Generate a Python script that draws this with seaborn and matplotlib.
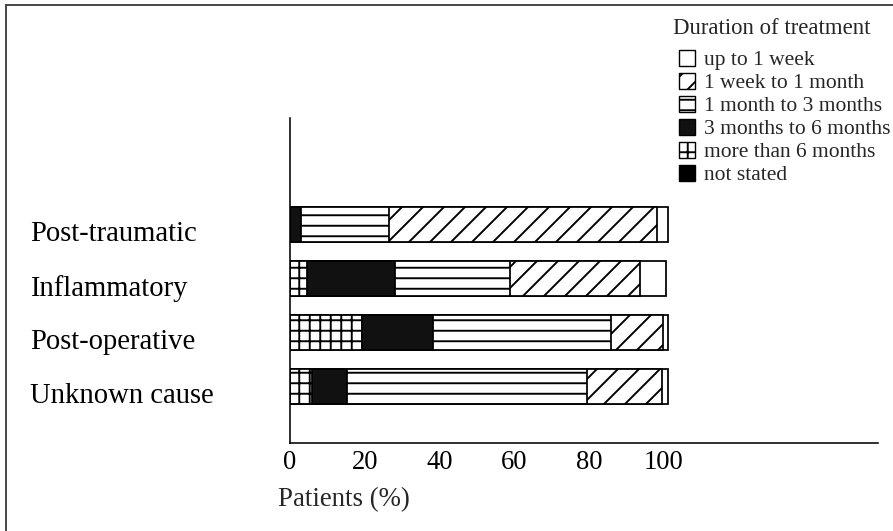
import numpy as np
import pandas as pd
import matplotlib
matplotlib.use("Agg")
import matplotlib.pyplot as plt
import matplotlib.transforms as mtransforms
import seaborn as sns
from matplotlib.patches import Patch
from matplotlib.lines import Line2D

# ---------------- data ----------------
categories = ["Post-traumatic", "Inflammatory", "Post-operative", "Unknown cause"]
# segments listed left -> right along each bar (percent of patients)
not_stated = [0.0, 0.0, 0.0, 0.0]
more_than_6_months = [0.0, 4.5, 19.2, 5.8]
months_3_to_6 = [3.0, 23.5, 19.0, 9.4]
months_1_to_3 = [23.5, 30.7, 47.6, 64.1]
week_1_to_month_1 = [71.5, 34.8, 13.9, 20.1]
up_to_1_week = [3.0, 7.0, 1.3, 1.6]

legend_labels = ["up to 1 week", "1 week to 1 month", "1 month to 3 months",
                 "3 months to 6 months", "more than 6 months", "not stated"]
x_ticks = [0, 20, 40, 60, 80, 100]
x_label = "Patients (%)"
legend_title = "Duration of treatment"

# ---------------- style ----------------
DPI = 126
W, H = 893, 531
sns.set_style("white")
plt.rcParams["font.family"] = ["Liberation Serif", "DejaVu Serif"]
plt.rcParams["hatch.linewidth"] = 1.1
plt.rcParams["axes.edgecolor"] = "black"

styles = {
    "up to 1 week": ("white", ""),
    "1 week to 1 month": ("white", "//"),
    "1 month to 3 months": ("white", "--"),
    "3 months to 6 months": ("#111111", ""),
    "more than 6 months": ("white", "++"),
    "not stated": ("black", ""),
}

fig = plt.figure(figsize=(W / DPI, H / DPI), dpi=DPI)
ax = fig.add_axes([290 / W, 88 / H, 588 / W, 325 / H])

segments = [
    ("not stated", not_stated),
    ("more than 6 months", more_than_6_months),
    ("3 months to 6 months", months_3_to_6),
    ("1 month to 3 months", months_1_to_3),
    ("1 week to 1 month", week_1_to_month_1),
    ("up to 1 week", up_to_1_week),
]
cum = np.cumsum(np.array([s[1] for s in segments]), axis=0)

for i in reversed(range(len(segments))):
    name = segments[i][0]
    face, hatch = styles[name]
    df = pd.DataFrame({"category": categories, "value": cum[i]})
    sns.barplot(data=df, x="value", y="category", order=categories, orient="h",
                color=face, saturation=1, edgecolor="black", linewidth=1.0,
                width=0.65, ax=ax)
    for p in ax.containers[-1]:
        p.set_facecolor(face)
        p.set_hatch(hatch)

ax.set_xlim(0, 157.2)
ax.set_ylim(4.04, -1.98)
ax.set_xticks(x_ticks)
ax.set_xticklabels([str(t) for t in x_ticks])
ax.tick_params(axis="x", direction="in", length=12, width=1.2, pad=4,
               labelsize=15.2, colors="black")
ax.tick_params(axis="y", length=0)
ax.set_yticklabels([])
ax.set_ylabel("")

# category labels, left aligned far left of the axis
lab_tr = mtransforms.blended_transform_factory(fig.transFigure, ax.transData)
for i, cat in enumerate(categories):
    ax.text(30 / W, i + 0.17, cat, transform=lab_tr, ha="left", va="center",
            fontsize=16.4, color="black")

ax.set_xlabel(x_label, fontsize=15.4, ha="left", va="center")
ax.xaxis.set_label_coords((278 - 290) / 588, (443 - 500) / 325)

sns.despine(ax=ax, top=True, right=True)
ax.spines["left"].set_linewidth(0.9)
ax.spines["bottom"].set_linewidth(0.9)

# legend
handles = [Patch(facecolor=styles[l][0], edgecolor="black", hatch=styles[l][1],
                 linewidth=0.8) for l in legend_labels]
fig.legend(handles, legend_labels, loc="upper left",
           bbox_to_anchor=(679 / W, 1 - 50 / H), frameon=False,
           fontsize=12.3, handlelength=0.75, handleheight=0.75,
           handletextpad=0.4, labelspacing=0.12, borderpad=0, borderaxespad=0)
fig.text(673 / W, 1 - 28 / H, legend_title, ha="left", va="center", fontsize=13)

# outer frame (left and top edges only)
fig.add_artist(Line2D([6 / W, 6 / W], [0, 1 - 5 / H], transform=fig.transFigure,
                      color="#444444", lw=1.1))
fig.add_artist(Line2D([6 / W, 1], [1 - 5 / H, 1 - 5 / H], transform=fig.transFigure,
                      color="#444444", lw=1.1))

fig.savefig("out.png", dpi=DPI)
